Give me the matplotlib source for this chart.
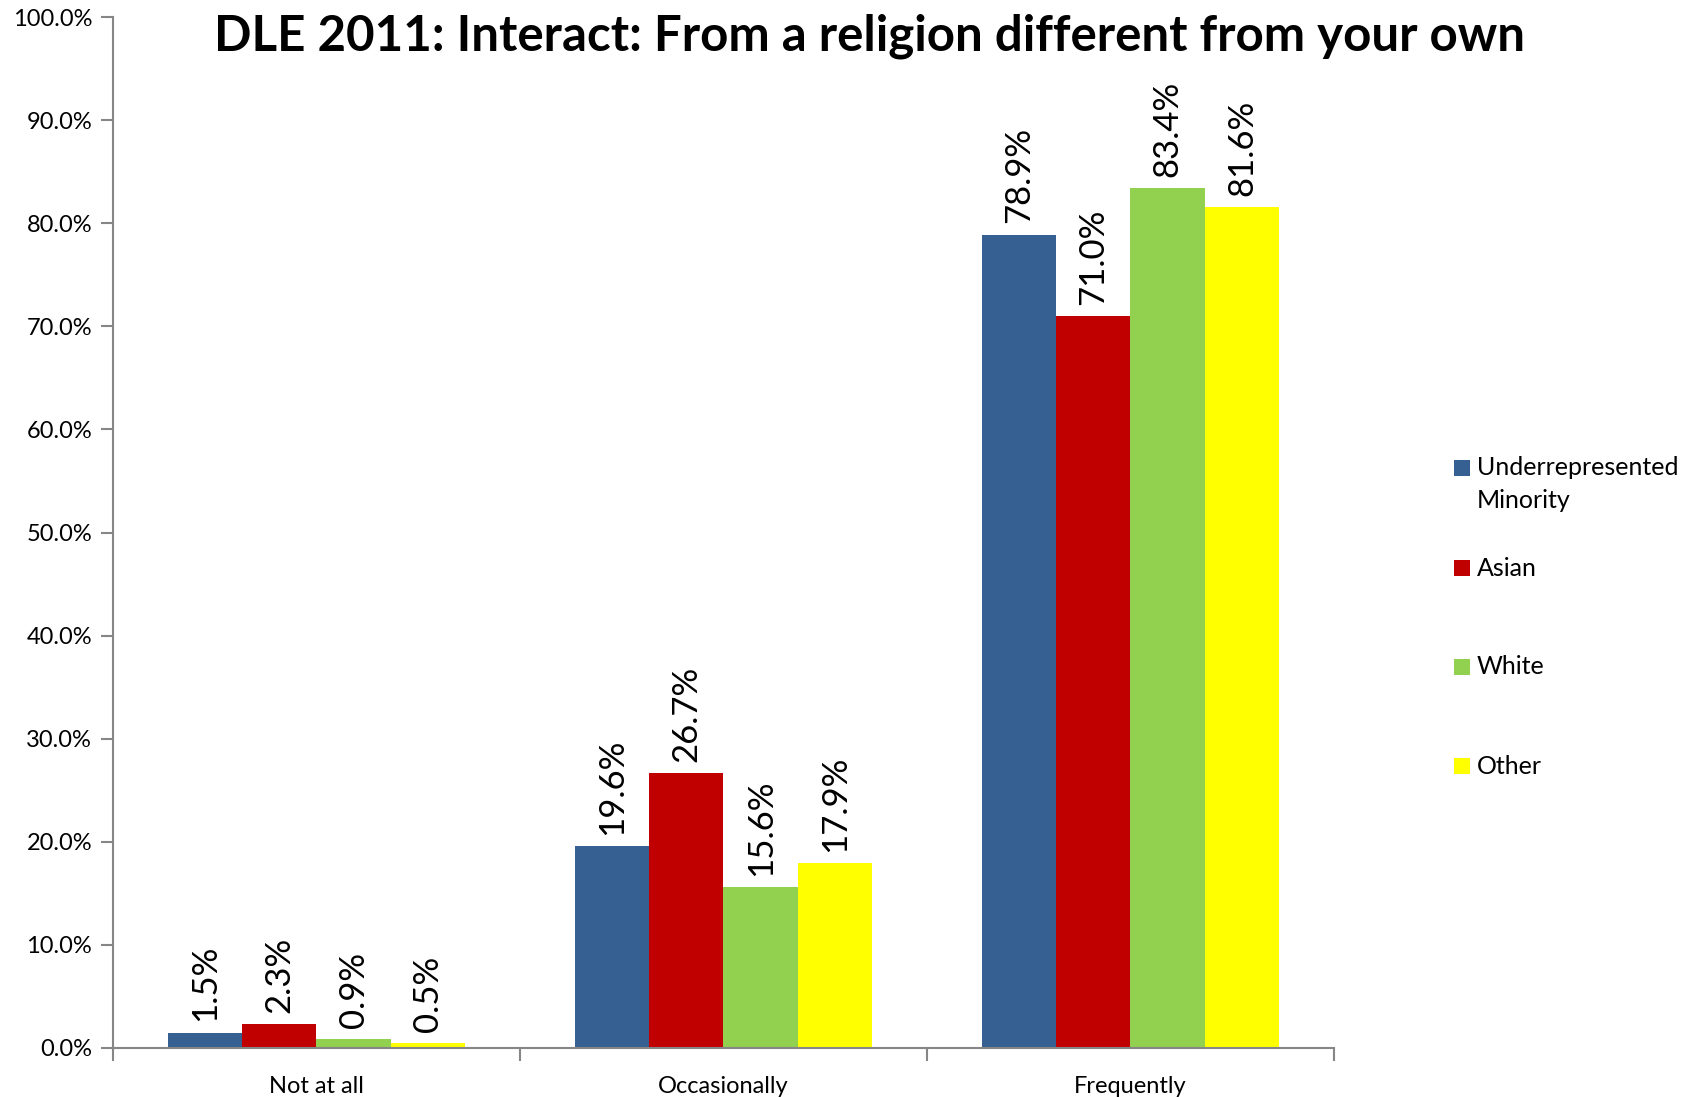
import matplotlib
matplotlib.use("Agg")
import matplotlib.pyplot as plt
from matplotlib.patches import Rectangle
import numpy as np

categories = ["Not at all", "Occasionally", "Frequently"]
series_names = ["Underrepresented\nMinority", "Asian", "White", "Other"]
series_colors = ["#366092", "#C00000", "#92D050", "#FFFF00"]
values = [
    [1.5, 19.6, 78.9],   # Underrepresented Minority
    [2.3, 26.7, 71.0],   # Asian
    [0.9, 15.6, 83.4],   # White
    [0.5, 17.9, 81.6],   # Other
]
yticks = [0, 10, 20, 30, 40, 50, 60, 70, 80, 90, 100]
title = "DLE 2011: Interact: From a religion different from your own"

plt.rcParams['font.family'] = ['Lato', 'DejaVu Sans']
W, H = 1690, 1097
fig = plt.figure(figsize=(W / 100, H / 100), dpi=100)
ax = fig.add_axes([113 / W, 1 - 1048 / H, (1334 - 113) / W, (1048 - 17) / H])

gray = "#868686"
bw = 0.1825
x = np.arange(len(categories))
for j, (vals, col) in enumerate(zip(values, series_colors)):
    pos = x + (j - 1.5) * bw
    bars = ax.bar(pos, vals, width=bw, color=col, edgecolor='none', zorder=2)
    for b, v in zip(bars, vals):
        ax.annotate(f"{v:.1f}%", (b.get_x() + b.get_width() / 2, b.get_height()),
                    xytext=(0, 8), textcoords='offset points', rotation=90,
                    ha='center', va='bottom', fontsize=25, color='black')

ax.set_xlim(-0.5, len(categories) - 0.5)
ax.set_ylim(0, 100)
ax.set_yticks(yticks)
ax.set_yticklabels([f"{t:.1f}%" for t in yticks], fontsize=17)
ax.set_xticks(np.arange(-0.5, len(categories)), labels=[""] * (len(categories) + 1))
ax.set_xticks(x, labels=categories, minor=True, fontsize=17)
ax.tick_params(axis='x', which='minor', length=0, pad=20)
ax.tick_params(axis='x', which='major', length=9, width=1.5, color=gray, direction='out')
ax.tick_params(axis='y', length=9, width=1.5, color=gray, direction='out', pad=6)
for s in ['top', 'right']:
    ax.spines[s].set_visible(False)
for s in ['left', 'bottom']:
    ax.spines[s].set_color(gray)
    ax.spines[s].set_linewidth(1.5)

fig.text(870 / W, 1 - 36 / H, title, ha='center', va='center',
         fontsize=35.5, fontweight='bold')

# legend
leg_y = [468, 568, 667, 766]
for name, col, yc in zip(series_names, series_colors, leg_y):
    fig.patches.append(Rectangle((1454 / W, 1 - (yc + 8) / H), 16 / W, 16 / H,
                                 transform=fig.transFigure, facecolor=col,
                                 edgecolor='none'))
    lines = name.split("\n")
    for k, ln in enumerate(lines):
        fig.text(1477 / W, 1 - (yc + 33 * k) / H, ln, ha='left', va='center',
                 fontsize=18)

fig.savefig("out.png", dpi=100, facecolor='white')
